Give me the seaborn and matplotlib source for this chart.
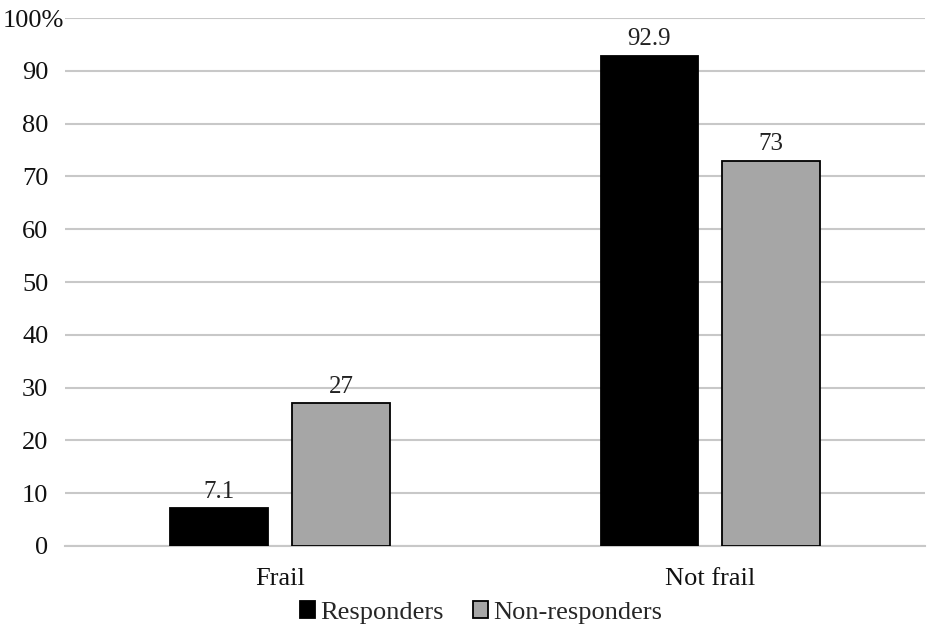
import matplotlib
matplotlib.use("Agg")
import matplotlib.pyplot as plt
import matplotlib.transforms as mtransforms
import seaborn as sns
import pandas as pd

# data
categories = ["Frail", "Not frail"]
groups = ["Responders", "Non-responders"]
responders = [7.1, 92.9]
non_responders = [27, 73]
value_labels = [["7.1", "92.9"], ["27", "73"]]
y_ticks = [0, 10, 20, 30, 40, 50, 60, 70, 80, 90, 100]
y_tick_labels = ["0", "10", "20", "30", "40", "50", "60", "70", "80", "90", "100%"]

df = pd.DataFrame({
    "category": categories * 2,
    "group": [groups[0]] * 2 + [groups[1]] * 2,
    "value": responders + non_responders,
})

sns.set_theme(style="white")
plt.rcParams["font.family"] = ["Liberation Serif", "DejaVu Serif"]

fig = plt.figure(figsize=(9.3, 6.26), dpi=100)
ax = fig.add_axes([0.07, 0.128, 0.925, 0.843])

sns.barplot(
    data=df, x="category", y="value", hue="group",
    palette=["#000000", "#A6A6A6"], width=0.567, gap=0.2,
    edgecolor="black", linewidth=1.3, ax=ax, zorder=3,
)

# value labels above bars
for cont, labs in zip(ax.containers, value_labels):
    ax.bar_label(cont, labels=labs, padding=4, fontsize=18, color="#222222")

ax.set_ylim(0, 100)
ax.set_xlim(-0.5, 1.5)
ax.set_yticks(y_ticks)
ax.set_yticklabels(y_tick_labels)
ax.yaxis.grid(True, color="#C8C8C8", linewidth=1.5, zorder=0)
ax.set_axisbelow(True)
for s in ["top", "right", "left"]:
    ax.spines[s].set_visible(False)
ax.spines["bottom"].set_color("#C8C8C8")
ax.spines["bottom"].set_linewidth(1.5)
ax.tick_params(axis="both", length=0, labelsize=19, colors="#111111")
ax.tick_params(axis="y", pad=12)
ax.tick_params(axis="x", pad=16)

# the "100%" label sticks out to the right like in the original
top_label = ax.get_yticklabels()[-1]
top_label.set_transform(top_label.get_transform() +
                        mtransforms.ScaledTranslation(16 / 100, 0, fig.dpi_scale_trans))

ax.set_xlabel("")
ax.set_ylabel("")

ax.legend(
    loc="upper center", bbox_to_anchor=(0.484, -0.085), ncol=2, frameon=False,
    fontsize=19, handlelength=0.57, handleheight=0.57, handletextpad=0.2,
    columnspacing=1.1, borderaxespad=0,
)

fig.savefig("out.png", dpi=100)
